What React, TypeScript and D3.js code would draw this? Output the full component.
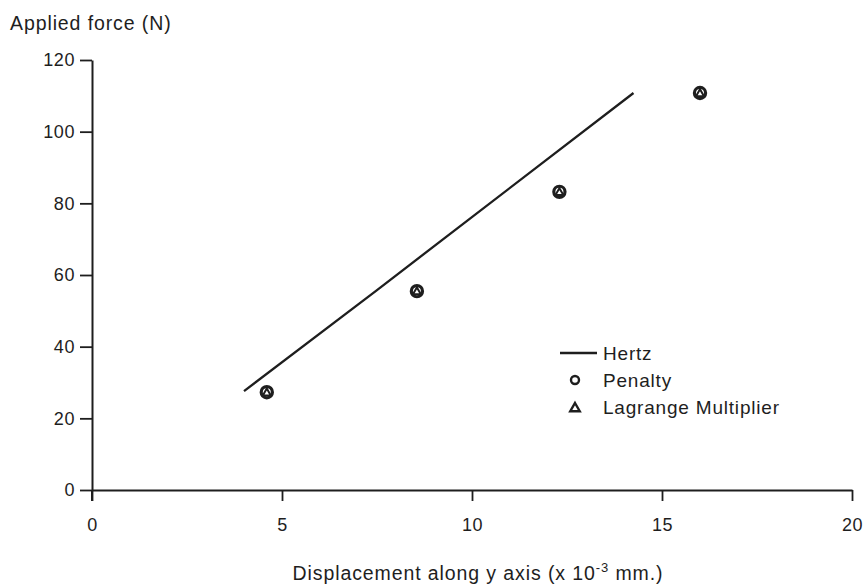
import React, { useEffect, useRef } from 'react';
import * as d3 from 'd3';

// Hertz analytical curve (displacement x 10^-3 mm, force N)
const hertzX = [4.0, 7.5, 14.25];
const hertzY = [27.6, 55.8, 110.8];

// FE results - penalty and Lagrange multiplier nearly coincide
const feX = [4.6, 8.55, 12.3, 16.0];
const penaltyY = [27.3, 55.5, 83.2, 110.8];
const lagrangeY = [27.3, 55.5, 83.2, 110.8];

const xTicks = [0, 5, 10, 15, 20];
const yTicks = [0, 20, 40, 60, 80, 100, 120];

const legendLabels = ['Hertz', 'Penalty', 'Lagrange Multiplier'];

export default function App() {
  const svgRef = useRef<SVGSVGElement | null>(null);

  useEffect(() => {
    if (!svgRef.current) return;
    const width = 866;
    const height = 585;
    const ink = '#1e1e1e';
    const font = '"Liberation Sans", Arial, Helvetica, sans-serif';

    const svg = d3.select(svgRef.current);
    svg.selectAll('*').remove();
    svg.attr('width', width).attr('height', height).style('background', '#fff');

    const x = d3.scaleLinear().domain([0, 20]).range([92, 852]);
    const y = d3.scaleLinear().domain([0, 120]).range([490, 60]);

    // axes
    const xAxis = svg.append('g').attr('transform', `translate(0,${y(0)})`)
      .call(d3.axisBottom(x).tickValues(xTicks).tickSize(11).tickPadding(17).tickSizeOuter(0));
    const yAxis = svg.append('g').attr('transform', `translate(${x(0)},0)`)
      .call(d3.axisLeft(y).tickValues(yTicks).tickSize(12).tickPadding(5).tickSizeOuter(0));

    [xAxis, yAxis].forEach(a => {
      a.select('.domain').attr('stroke', ink).attr('stroke-width', 2);
      a.selectAll('.tick line').attr('stroke', ink).attr('stroke-width', 1.8);
      a.selectAll('.tick text')
        .attr('fill', ink)
        .attr('font-family', font)
        .attr('font-size', 18)
        .attr('letter-spacing', 0.6);
    });
    // y axis runs a little past the x axis
    svg.append('line')
      .attr('x1', x(0)).attr('x2', x(0))
      .attr('y1', y(0)).attr('y2', y(0) + 11)
      .attr('stroke', ink).attr('stroke-width', 2);

    // axis titles
    svg.append('text')
      .attr('x', 10).attr('y', 30)
      .attr('font-family', font).attr('font-size', 19.5).attr('letter-spacing', 0.9)
      .attr('fill', ink)
      .text('Applied force (N)');

    const xt = svg.append('text')
      .attr('x', 478).attr('y', 580)
      .attr('text-anchor', 'middle')
      .attr('font-family', font).attr('font-size', 19.5).attr('letter-spacing', 0.9)
      .attr('fill', ink);
    xt.append('tspan').text('Displacement along y axis (x 10');
    xt.append('tspan').attr('dy', -8).attr('font-size', 13).text('-3');
    xt.append('tspan').attr('dy', 8).text(' mm.)');

    // Hertz line
    const line = d3.line<number>()
      .x((d, i) => x(hertzX[i]))
      .y(d => y(d));
    svg.append('path')
      .datum(hertzY)
      .attr('d', line)
      .attr('fill', 'none')
      .attr('stroke', ink)
      .attr('stroke-width', 2.3);

    const triPath = (s: number) => `M0,${-s}L${s * 0.95},${s * 0.65}L${-s * 0.95},${s * 0.65}Z`;

    // Penalty circles
    svg.append('g').selectAll('circle')
      .data(penaltyY)
      .join('circle')
      .attr('cx', (d, i) => x(feX[i]))
      .attr('cy', d => y(d))
      .attr('r', 5.6)
      .attr('fill', 'none')
      .attr('stroke', ink)
      .attr('stroke-width', 3.2);

    // Lagrange triangles
    svg.append('g').selectAll('path')
      .data(lagrangeY)
      .join('path')
      .attr('transform', (d, i) => `translate(${x(feX[i])},${y(d) + 0.5})`)
      .attr('d', triPath(4.2))
      .attr('fill', 'none')
      .attr('stroke', ink)
      .attr('stroke-width', 2);

    // legend
    const lg = svg.append('g').attr('transform', 'translate(560,353)');
    const rowH = 27;
    lg.append('line')
      .attr('x1', 0).attr('x2', 37).attr('y1', 0).attr('y2', 0)
      .attr('stroke', ink).attr('stroke-width', 2.3);
    lg.append('circle')
      .attr('cx', 15).attr('cy', rowH).attr('r', 4)
      .attr('fill', 'none').attr('stroke', ink).attr('stroke-width', 2.4);
    lg.append('path')
      .attr('transform', `translate(15,${rowH * 2 + 1})`)
      .attr('d', triPath(5))
      .attr('fill', 'none').attr('stroke', ink).attr('stroke-width', 2.4);
    legendLabels.forEach((t, i) => {
      lg.append('text')
        .attr('x', 43).attr('y', i * rowH + 7)
        .attr('font-family', font).attr('font-size', 19).attr('letter-spacing', 0.8)
        .attr('fill', ink)
        .text(t);
    });
  }, []);

  return (
    <div style={{ position: 'absolute', left: 0, top: 0 }}>
      <svg ref={svgRef} style={{ display: 'block' }}></svg>
    </div>
  );
}
